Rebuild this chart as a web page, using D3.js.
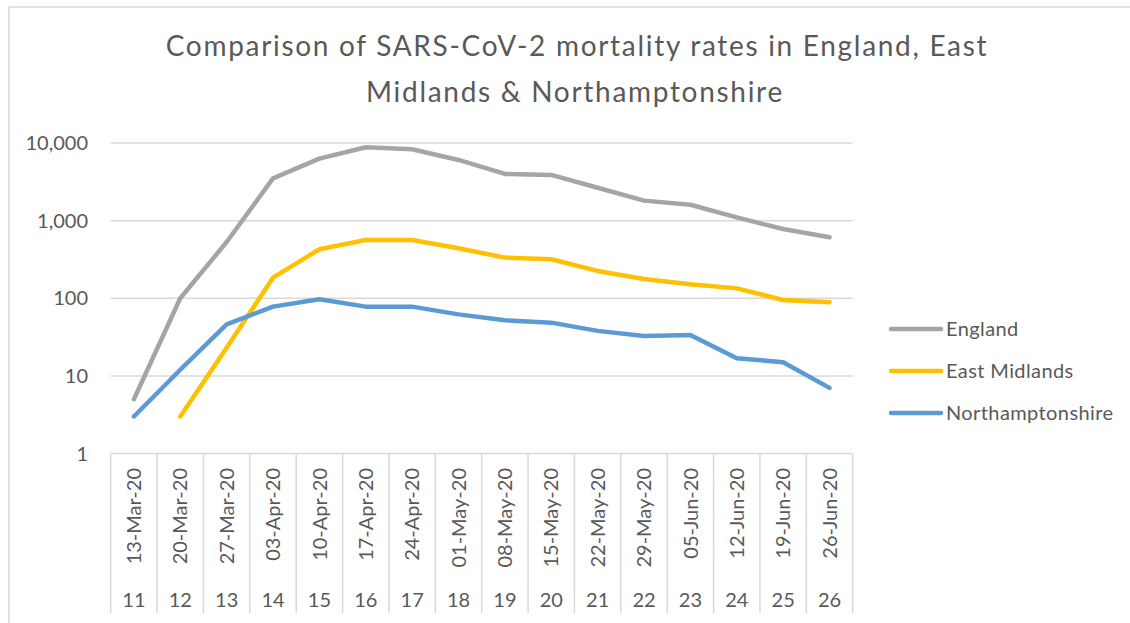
<!DOCTYPE html>
<html>
<head>
<meta charset="utf-8">
<script src="https://cdn.jsdelivr.net/npm/d3@7"></script>
<style>
  body { margin: 0; background: #fff; }
  svg { display: block; font-family: Lato, "Open Sans", sans-serif; }
  .lbl { fill: #595959; }
</style>
</head>
<body>
<svg id="chart" width="1130" height="623"></svg>
<script>
// week numbers and week-ending dates
var weeks = [11, 12, 13, 14, 15, 16, 17, 18, 19, 20, 21, 22, 23, 24, 25, 26];
var dates = ["13-Mar-20", "20-Mar-20", "27-Mar-20", "03-Apr-20", "10-Apr-20", "17-Apr-20",
  "24-Apr-20", "01-May-20", "08-May-20", "15-May-20", "22-May-20", "29-May-20",
  "05-Jun-20", "12-Jun-20", "19-Jun-20", "26-Jun-20"];

// deaths per week
var england = [5, 100, 530, 3500, 6300, 8800, 8300, 6050, 4000, 3880, 2650, 1810, 1600, 1100, 780, 610];
var eastMidlands = [null, 3, 23, 184, 428, 564, 564, 440, 334, 318, 225, 177, 151, 134, 95, 89];
var northants = [3, 12, 46, 78, 97, 78, 78, 62, 52, 48.5, 38, 32.7, 33.7, 16.9, 15, 7];

var yTicks = [1, 10, 100, 1000, 10000];

var series = [
  {name: "England", values: england, color: "#A5A5A5"},
  {name: "East Midlands", values: eastMidlands, color: "#FFC000"},
  {name: "Northamptonshire", values: northants, color: "#5B9BD5"}
];

var svg = d3.select("#chart");
var plotLeft = 110.7, plotRight = 852.7, plotTop = 143, plotBottom = 453.5;

var x = d3.scaleBand().domain(d3.range(dates.length)).range([plotLeft, plotRight]);
var y = d3.scaleLog().domain([1, 10000]).range([plotBottom, plotTop]);

// outer chart border (left and top only visible)
svg.append("path")
  .attr("d", "M9,623 V7 H1130")
  .attr("fill", "none")
  .attr("stroke", "#D9D9D9")
  .attr("stroke-width", 1.5);

// title
var title = svg.append("text")
  .attr("class", "lbl")
  .attr("text-anchor", "middle")
  .style("font-size", "28px")
  .style("letter-spacing", "1.7px");
title.append("tspan").attr("x", 577).attr("y", 56)
  .text("Comparison of SARS-CoV-2 mortality rates in England, East");
title.append("tspan").attr("x", 575).attr("y", 102)
  .text("Midlands & Northamptonshire");

// gridlines
svg.append("g").selectAll("line")
  .data(yTicks.slice(1))
  .enter().append("line")
  .attr("x1", plotLeft).attr("x2", plotRight)
  .attr("y1", function(d){ return y(d); })
  .attr("y2", function(d){ return y(d); })
  .attr("stroke", "#D9D9D9")
  .attr("stroke-width", 1.5);

// y labels
svg.append("g").selectAll("text")
  .data(yTicks)
  .enter().append("text")
  .attr("class", "lbl")
  .attr("x", 88)
  .attr("y", function(d){ return y(d); })
  .attr("dy", "0.36em")
  .attr("text-anchor", "end")
  .style("font-size", "20px")
  .text(function(d){ return d3.format(",")(d); });

// category axis box
var axisBottom = 613;
svg.append("line")
  .attr("x1", plotLeft).attr("x2", plotRight)
  .attr("y1", plotBottom).attr("y2", plotBottom)
  .attr("stroke", "#D9D9D9").attr("stroke-width", 1.5);
svg.append("g").selectAll("line")
  .data(d3.range(dates.length + 1))
  .enter().append("line")
  .attr("x1", function(i){ return i < dates.length ? x(i) : plotRight; })
  .attr("x2", function(i){ return i < dates.length ? x(i) : plotRight; })
  .attr("y1", plotBottom).attr("y2", axisBottom)
  .attr("stroke", "#D9D9D9").attr("stroke-width", 1.5);

// date labels (rotated)
svg.append("g").selectAll("text")
  .data(dates)
  .enter().append("text")
  .attr("class", "lbl")
  .attr("text-anchor", "end")
  .attr("transform", function(d, i){
    return "translate(" + (x(i) + x.bandwidth() / 2) + ",468) rotate(-90)";
  })
  .attr("dy", "0.36em")
  .style("font-size", "20px")
  .text(function(d){ return d; });

// week numbers
svg.append("g").selectAll("text")
  .data(weeks)
  .enter().append("text")
  .attr("class", "lbl")
  .attr("text-anchor", "middle")
  .attr("x", function(d, i){ return x(i) + x.bandwidth() / 2; })
  .attr("y", 607)
  .style("font-size", "20px")
  .text(function(d){ return d; });

// lines
var line = d3.line()
  .defined(function(d){ return d != null; })
  .x(function(d, i){ return x(i) + x.bandwidth() / 2; })
  .y(function(d){ return y(d); });

svg.append("g").selectAll("path")
  .data(series)
  .enter().append("path")
  .attr("d", function(s){ return line(s.values); })
  .attr("fill", "none")
  .attr("stroke", function(s){ return s.color; })
  .attr("stroke-width", 4.5)
  .attr("stroke-linecap", "round")
  .attr("stroke-linejoin", "round");

// legend
var legend = svg.append("g").selectAll("g")
  .data(series)
  .enter().append("g")
  .attr("transform", function(d, i){ return "translate(0," + (329 + i * 42) + ")"; });
legend.append("line")
  .attr("x1", 891).attr("x2", 941)
  .attr("stroke", function(d){ return d.color; })
  .attr("stroke-width", 4.5)
  .attr("stroke-linecap", "round");
legend.append("text")
  .attr("class", "lbl")
  .attr("x", 946)
  .attr("dy", "0.36em")
  .style("font-size", "20px")
  .style("letter-spacing", "0.4px")
  .text(function(d){ return d.name; });
</script>
</body>
</html>
